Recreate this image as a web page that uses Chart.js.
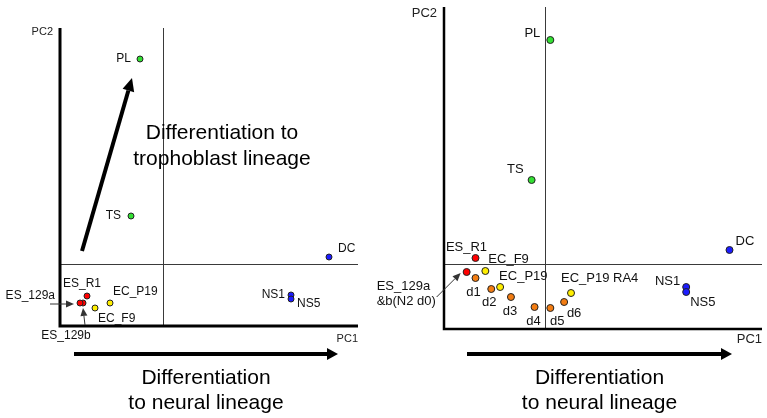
<!DOCTYPE html>
<html>
<head>
<meta charset="utf-8">
<script src="https://cdn.jsdelivr.net/npm/chart.js@4.4.1/dist/chart.umd.min.js"></script>
<style>
  html, body { margin: 0; padding: 0; background: #fff; }
  #wrap { position: relative; width: 767px; height: 418px; overflow: hidden; }
  canvas { position: absolute; top: 0; }
  #left  { left: 0; }
  #right { left: 370px; }
</style>
</head>
<body>
<div id="wrap">
  <canvas id="left" width="380" height="418"></canvas>
  <canvas id="right" width="397" height="418"></canvas>
</div>
<script>
/* ══════════════════════════════════════
   PCA of ES / EC / TS / NS samples
══════════════════════════════════════ */

// ── DATA: left panel ──────────────────
const leftNames  = ['PL', 'TS', 'DC', 'NS1', 'NS5', 'ES_R1', 'ES_129b', 'ES_129a', 'EC_F9', 'EC_P19'];
const leftPC1    = [-2.3, -3.2, 16.6, 12.8, 12.8, -7.6, -8.0, -8.3, -6.8, -5.3];
const leftPC2    = [20.5,  4.8,  0.7, -3.1, -3.5, -3.2, -3.9, -3.9, -4.4, -3.9];
const leftGroups = ['troph', 'troph', 'neural', 'neural', 'neural', 'es', 'es', 'es', 'ec', 'ec'];

// ── DATA: right panel ─────────────────
const rightNames  = ['PL', 'TS', 'DC', 'NS1', 'NS5', 'ES_R1', 'ES_129a', 'EC_F9', 'EC_P19', 'EC_P19 RA4',
                     'd1', 'd2', 'd3', 'd4', 'd5', 'd6'];
const rightPC1    = [0.5, -1.4, 18.7, 14.3, 14.3, -7.1, -8.0, -6.1, -4.6, 2.6,
                     -7.1, -5.5, -3.5, -1.1, 0.5, 1.9];
const rightPC2    = [22.4, 8.4, 1.4, -2.3, -2.8, 0.6, -0.8, -0.7, -2.3, -2.9,
                     -1.4, -2.5, -3.3, -4.3, -4.4, -3.8];
const rightGroups = ['troph', 'troph', 'neural', 'neural', 'neural', 'es', 'es', 'ec', 'ec', 'ec',
                     'n2', 'n2', 'n2', 'n2', 'n2', 'n2'];

const GROUP_COLORS = {
  es:     '#ff0000',
  ec:     '#ffee00',
  n2:     '#f27c12',
  troph:  '#33e033',
  neural: '#1c1cff',
};

// ── LABEL PLACEMENT (px offset from the dot, alignment) ──
const leftLabelPos = {
  'PL':      [-9, 0, 'right'],
  'TS':      [-10, 0, 'right'],
  'DC':      [9, -8, 'left'],
  'NS1':     [-6, 0, 'right'],
  'NS5':     [6, 5, 'left'],
  'ES_R1':   [-5, -12, 'center'],
  'ES_129a': [-25, -7, 'right'],
  'ES_129b': [-17, 33, 'center'],
  'EC_F9':   [3, 11, 'left'],
  'EC_P19':  [3, -11, 'left'],
};
const rightLabelPos = {
  'PL':         [-10, -7, 'right'],
  'TS':         [-8, -11, 'right'],
  'DC':         [6, -9, 'left'],
  'NS1':        [-6, -6, 'right'],
  'NS5':        [4, 10, 'left'],
  'ES_R1':      [-9, -11, 'center'],
  'ES_129a':    [-90, 14, 'left', ['ES_129a', '&b(N2 d0)']],
  'EC_F9':      [3, -12, 'left'],
  'EC_P19':     [-1, -11, 'left'],
  'EC_P19 RA4': [-10, -15, 'left'],
  'd1':         [-2, 14, 'center'],
  'd2':         [-2, 13, 'center'],
  'd3':         [-1, 14, 'center'],
  'd4':         [-1, 14, 'center'],
  'd5':         [7, 13, 'center'],
  'd6':         [10, 11, 'center'],
};

// thin leader arrows: [name, dx1, dy1, dx2, dy2]
const leftLeaders  = [['ES_129a', -30, 1, -6, 1], ['ES_129b', 2, 22, 0, 5]];
const rightLeaders = [['ES_129a', -30, 25, -6, 1]];

const FONT = '"Liberation Sans", Arial, Helvetica, sans-serif';

// ── HELPERS ───────────────────────────
function drawArrow(ctx, x1, y1, x2, y2, width, headLen, headHalf, color) {
  const a  = Math.atan2(y2 - y1, x2 - x1);
  const bx = x2 - headLen * Math.cos(a);
  const by = y2 - headLen * Math.sin(a);
  ctx.strokeStyle = color;
  ctx.fillStyle = color;
  ctx.lineWidth = width;
  ctx.beginPath(); ctx.moveTo(x1, y1); ctx.lineTo(bx, by); ctx.stroke();
  ctx.beginPath();
  ctx.moveTo(x2, y2);
  ctx.lineTo(bx + headHalf * Math.sin(a), by - headHalf * Math.cos(a));
  ctx.lineTo(bx - headHalf * Math.sin(a), by + headHalf * Math.cos(a));
  ctx.closePath();
  ctx.fill();
}

function text(ctx, str, x, y, size, align) {
  ctx.font = `${size}px ${FONT}`;
  ctx.textAlign = align || 'left';
  ctx.textBaseline = 'middle';
  ctx.fillText(str, x, y);
}

// ── PANEL ─────────────────────────────
function makePanel(id, p) {
  const pointPx = (chart, name) => {
    const i = p.names.indexOf(name);
    return [chart.scales.x.getPixelForValue(p.pc1[i]), chart.scales.y.getPixelForValue(p.pc2[i])];
  };

  const decor = {
    id: 'decor',
    beforeDatasetsDraw(chart) {
      const { ctx, chartArea: a, scales: { x, y } } = chart;
      ctx.save();

      // crosshair through the origin
      ctx.strokeStyle = '#3a3a3a';
      ctx.lineWidth = 1;
      const x0 = Math.round(x.getPixelForValue(0)) + 0.5;
      const y0 = Math.round(y.getPixelForValue(0)) + 0.5;
      ctx.beginPath();
      ctx.moveTo(x0, a.top); ctx.lineTo(x0, a.bottom);
      ctx.moveTo(a.left, y0); ctx.lineTo(a.right, y0);
      ctx.stroke();

      // axes
      ctx.strokeStyle = '#000';
      ctx.lineWidth = p.axisWidth;
      ctx.beginPath();
      ctx.moveTo(a.left, a.top); ctx.lineTo(a.left, a.bottom);
      ctx.lineTo(a.right, a.bottom);
      ctx.stroke();

      ctx.fillStyle = '#222';
      text(ctx, 'PC2', a.left - 7, a.top + p.pc2Dy, p.pcFont, 'right');
      text(ctx, 'PC1', a.right, a.bottom + p.pc1Dy, p.pcFont, 'right');

      // neural differentiation arrow + caption
      const [ax1, ax2, ady] = p.bottomArrow;
      drawArrow(ctx, a.left + ax1, a.bottom + ady, a.left + ax2, a.bottom + ady, 4, 11, 6, '#000');
      ctx.fillStyle = '#000';
      const cx = a.left + (ax1 + ax2) / 2;
      text(ctx, 'Differentiation', cx, a.bottom + p.captionDy[0], 21, 'center');
      text(ctx, 'to neural lineage', cx, a.bottom + p.captionDy[1], 21, 'center');

      // trophoblast arrow + caption (left panel only)
      if (p.troph) {
        const t = p.troph;
        drawArrow(ctx, x.getPixelForValue(t.arrow[0]), y.getPixelForValue(t.arrow[1]),
                       x.getPixelForValue(t.arrow[2]), y.getPixelForValue(t.arrow[3]), 4, 13, 6, '#000');
        ctx.fillStyle = '#000';
        t.lines.forEach((ln, k) => {
          text(ctx, ln, x.getPixelForValue(t.at[0]), y.getPixelForValue(t.at[1 + k]), 21, 'center');
        });
      }

      // leader arrows
      p.leaders.forEach(([name, dx1, dy1, dx2, dy2]) => {
        const [px, py] = pointPx(chart, name);
        drawArrow(ctx, px + dx1, py + dy1, px + dx2, py + dy2, 1, 8, 3.5, '#333');
      });
      ctx.restore();
    },
    afterDatasetsDraw(chart) {
      const { ctx } = chart;
      ctx.save();
      ctx.fillStyle = '#111';
      p.names.forEach(name => {
        const pos = p.labelPos[name];
        if (!pos) return;
        const [px, py] = pointPx(chart, name);
        const lines = pos[3] || [name];
        lines.forEach((ln, k) => text(ctx, ln, px + pos[0], py + pos[1] + k * 15, p.labelFont, pos[2]));
      });
      ctx.restore();
    },
  };

  return new Chart(document.getElementById(id), {
    type: 'scatter',
    data: {
      datasets: [{
        data: p.pc1.map((v, i) => ({ x: v, y: p.pc2[i] })),
        backgroundColor: p.groups.map(g => GROUP_COLORS[g]),
        borderColor: '#222',
        borderWidth: 1,
        pointRadius: p.pointRadius,
      }],
    },
    options: {
      responsive: false,
      animation: false,
      layout: { padding: p.padding },
      plugins: { legend: { display: false }, tooltip: { enabled: false } },
      scales: {
        x: { type: 'linear', display: false, min: p.xRange[0], max: p.xRange[1] },
        y: { type: 'linear', display: false, min: p.yRange[0], max: p.yRange[1] },
      },
    },
    plugins: [decor],
  });
}

makePanel('left', {
  names: leftNames, pc1: leftPC1, pc2: leftPC2, groups: leftGroups,
  xRange: [-10.3, 19.5], yRange: [-6.2, 23.6],
  padding: { left: 60, top: 28, right: 22, bottom: 92 },
  axisWidth: 3, pointRadius: 3, labelFont: 12,
  pcFont: 11, pc2Dy: 4, pc1Dy: 13,
  bottomArrow: [14, 278, 28], captionDy: [52, 77],
  labelPos: leftLabelPos, leaders: leftLeaders,
  troph: {
    arrow: [-8.1, 1.3, -3.1, 18.6],
    at: [5.9, 13.1, 10.5],
    lines: ['Differentiation to', 'trophoblast lineage'],
  },
});

makePanel('right', {
  names: rightNames, pc1: rightPC1, pc2: rightPC2, groups: rightGroups,
  xRange: [-10.3, 22.0], yRange: [-6.5, 25.7],
  padding: { left: 74, top: 7, right: 0, bottom: 89 },
  axisWidth: 2.5, pointRadius: 3.5, labelFont: 13,
  pcFont: 13, pc2Dy: 6, pc1Dy: 10,
  bottomArrow: [23, 288, 25], captionDy: [49, 74],
  labelPos: rightLabelPos, leaders: rightLeaders,
});
</script>
</body>
</html>
